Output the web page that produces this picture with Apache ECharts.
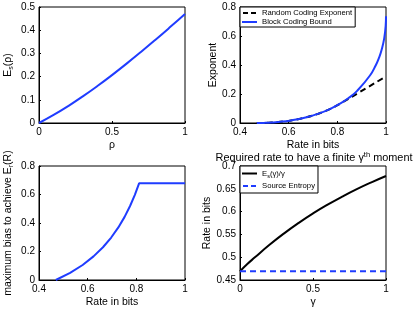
<!DOCTYPE html>
<html><head><meta charset="utf-8">
<script src="https://cdn.jsdelivr.net/npm/echarts@6/dist/echarts.min.js"></script>
<style>html,body{margin:0;padding:0;background:#fff}#c{width:415px;height:309px}</style>
</head><body><div id="c"></div>
<script>
// Top-left: E_s(rho)
const rhoVals = [0,0.1,0.2,0.3,0.4,0.5,0.6,0.7,0.8,0.9,1];
const esVals = [0,0.0346,0.0730,0.1148,0.1594,0.2065,0.2559,0.3071,0.3600,0.4144,0.4700];
// Top-right: exponents vs rate
const rateBlock = [0.469,0.4999,0.5294,0.5574,0.6098,0.6691,0.7219,0.7692,0.8113,0.8485,0.8813,0.9341,0.9580,0.9710,0.9815,0.9928,0.9988,1.0];
const expBlock = [0,0.0008,0.0030,0.0067,0.0177,0.0377,0.0641,0.0960,0.1332,0.1752,0.2217,0.3274,0.3985,0.4490,0.5019,0.5857,0.6747,0.7370];
const rateRandom = [0.469,0.4999,0.5294,0.5574,0.6098,0.6691,0.7219,0.7692,0.8113,1.0];
const expRandom = [0,0.0008,0.0030,0.0067,0.0177,0.0377,0.0641,0.0960,0.1332,0.3219];
// Bottom-left: maximum bias
const rateBias = [0.469,0.5278,0.5793,0.6241,0.6629,0.6967,0.7261,0.7518,0.7742,0.7939,0.8113,1.0];
const biasVals = [0,0.0499,0.1053,0.1656,0.2299,0.2980,0.3691,0.4430,0.5194,0.5978,0.6781,0.6781];
// Bottom-right: required rate
const gammaVals = [0,0.05,0.1,0.2,0.3,0.4,0.5,0.6,0.7,0.8,0.9,1];
const rateReq = [0.469,0.4850,0.4991,0.5266,0.5518,0.5748,0.5959,0.6152,0.6329,0.6493,0.6642,0.6781];
const entropyX = [0,1];
const entropyY = [0.469,0.469];

const pairs = (xs, ys) => xs.map((x,i)=>[x, ys[i]]);
const FF = '"Liberation Sans", Arial, Helvetica, sans-serif';
const BLUE = '#1f3cff';
const SOLID = 'path://M0,0H15V2H0Z';
const DASH = 'path://M0,0H5V2H0Z M8,0H13V2H8Z';
const grids = [
  {left:39, top:7, width:146, height:116},
  {left:240, top:7, width:146, height:116},
  {left:39, top:166, width:146, height:116},
  {left:240, top:166, width:146, height:116}
].map(g=>Object.assign(g,{show:true, borderColor:'#000', borderWidth:1, backgroundColor:'#fff'}));

const axisCommon = {
  axisLine:{show:true, lineStyle:{color:'#000', width:1}},
  axisTick:{show:true, inside:true, length:2, lineStyle:{color:'#000'}},
  splitLine:{show:false},
  axisLabel:{color:'#000', fontSize:10, fontFamily:FF, margin:4},
  nameTextStyle:{color:'#000', fontSize:10.5, fontFamily:FF},
  nameLocation:'middle'
};
function xa(idx, min, max, interval, name){
  return Object.assign({}, axisCommon, {type:'value', gridIndex:idx, min, max, interval, name, nameGap:17});
}
function ya(idx, min, max, interval, name, gap, rich){
  const a = Object.assign({}, axisCommon, {type:'value', gridIndex:idx, min, max, interval, name, nameGap:gap});
  a.nameTextStyle = Object.assign({}, axisCommon.nameTextStyle, rich ? {rich} : {});
  return a;
}
const subRich = {
  n:{fontSize:10.5, fontFamily:FF, color:'#000', lineHeight:14},
  s:{fontSize:7, fontFamily:FF, color:'#000', lineHeight:14, verticalAlign:'bottom', padding:[6,0,0,0]}
};

const option = {
  animation:false,
  backgroundColor:'#fff',
  title:{
    text:'{a|Required rate to have a finite γ}{s|th}{a| moment}',
    left:309, textAlign:'center', top:146,
    textStyle:{fontWeight:'normal', rich:{
      a:{fontSize:10.9, fontFamily:FF, color:'#000', fontWeight:'normal', lineHeight:14},
      s:{fontSize:7.5, fontFamily:FF, color:'#000', fontWeight:'normal', lineHeight:14, verticalAlign:'top', padding:[0,0,6,0]}
    }}
  },
  grid: grids,
  xAxis:[
    xa(0,0,1,0.5,'ρ'),
    xa(1,0.4,1,0.2,'Rate in bits'),
    xa(2,0.4,1,0.2,'Rate in bits'),
    xa(3,0,1,0.5,'γ')
  ],
  yAxis:[
    ya(0,0,0.5,0.1,'{n|E}{s|s}{n|(ρ)}',24,subRich),
    ya(1,0,0.8,0.2,'Exponent',21),
    ya(2,0,0.8,0.2,'{n|maximum bias to achieve E}{s|r}{n|(R)}',24,subRich),
    ya(3,0.45,0.7,0.05,'Rate in bits',26)
  ],
  legend:[
    {data:[{name:'Random Coding Exponent', icon:DASH},{name:'Block Coding Bound', icon:SOLID}], left:240, top:7, orient:'vertical',
     borderColor:'#000', borderWidth:1, backgroundColor:'#fff', borderRadius:0,
     padding:[2,3,1,2], itemGap:1, itemWidth:15, itemHeight:2,
     textStyle:{fontSize:7.7, fontFamily:FF, color:'#000'}},
    {data:[{name:'Es', icon:SOLID},{name:'Source Entropy', icon:DASH}], left:240, top:166, orient:'vertical',
     borderColor:'#000', borderWidth:1, backgroundColor:'#fff', borderRadius:0,
     padding:[3,3,3,2], itemGap:3, itemWidth:15, itemHeight:2,
     formatter: n => n==='Es' ? '{n|E}{s|s}{n|(γ)/γ}' : '{n|'+n+'}',
     textStyle:{fontSize:7.7, fontFamily:FF, color:'#000', rich:{
       n:{fontSize:7.7, fontFamily:FF, color:'#000', lineHeight:11},
       s:{fontSize:5.5, fontFamily:FF, color:'#000', lineHeight:11, verticalAlign:'bottom', padding:[4,0,0,0]}
     }}}
  ],
  series:[
    {type:'line', xAxisIndex:0, yAxisIndex:0, data:pairs(rhoVals, esVals), symbol:'none', smooth:true,
     lineStyle:{color:BLUE, width:2}, itemStyle:{color:BLUE}},
    {name:'Random Coding Exponent', type:'line', xAxisIndex:1, yAxisIndex:1, data:pairs(rateRandom, expRandom), symbol:'none', smooth:true,
     lineStyle:{color:'#000', width:2, type:[6,4]}, itemStyle:{color:'#000'}},
    {name:'Block Coding Bound', type:'line', xAxisIndex:1, yAxisIndex:1, data:pairs(rateBlock, expBlock), symbol:'none', smooth:true,
     lineStyle:{color:BLUE, width:2}, itemStyle:{color:BLUE}},
    {type:'line', xAxisIndex:2, yAxisIndex:2, data:pairs(rateBias, biasVals), symbol:'none', smooth:false,
     lineStyle:{color:BLUE, width:2}, itemStyle:{color:BLUE}},
    {name:'Es', type:'line', xAxisIndex:3, yAxisIndex:3, data:pairs(gammaVals, rateReq), symbol:'none', smooth:true,
     lineStyle:{color:'#000', width:2}, itemStyle:{color:'#000'}},
    {name:'Source Entropy', type:'line', xAxisIndex:3, yAxisIndex:3, data:pairs(entropyX, entropyY), symbol:'none',
     lineStyle:{color:BLUE, width:2, type:[6,4]}, itemStyle:{color:BLUE}}
  ]
};
const chart = echarts.init(document.getElementById('c'), null, {renderer:'canvas'});
chart.setOption(option);
</script></body></html>
